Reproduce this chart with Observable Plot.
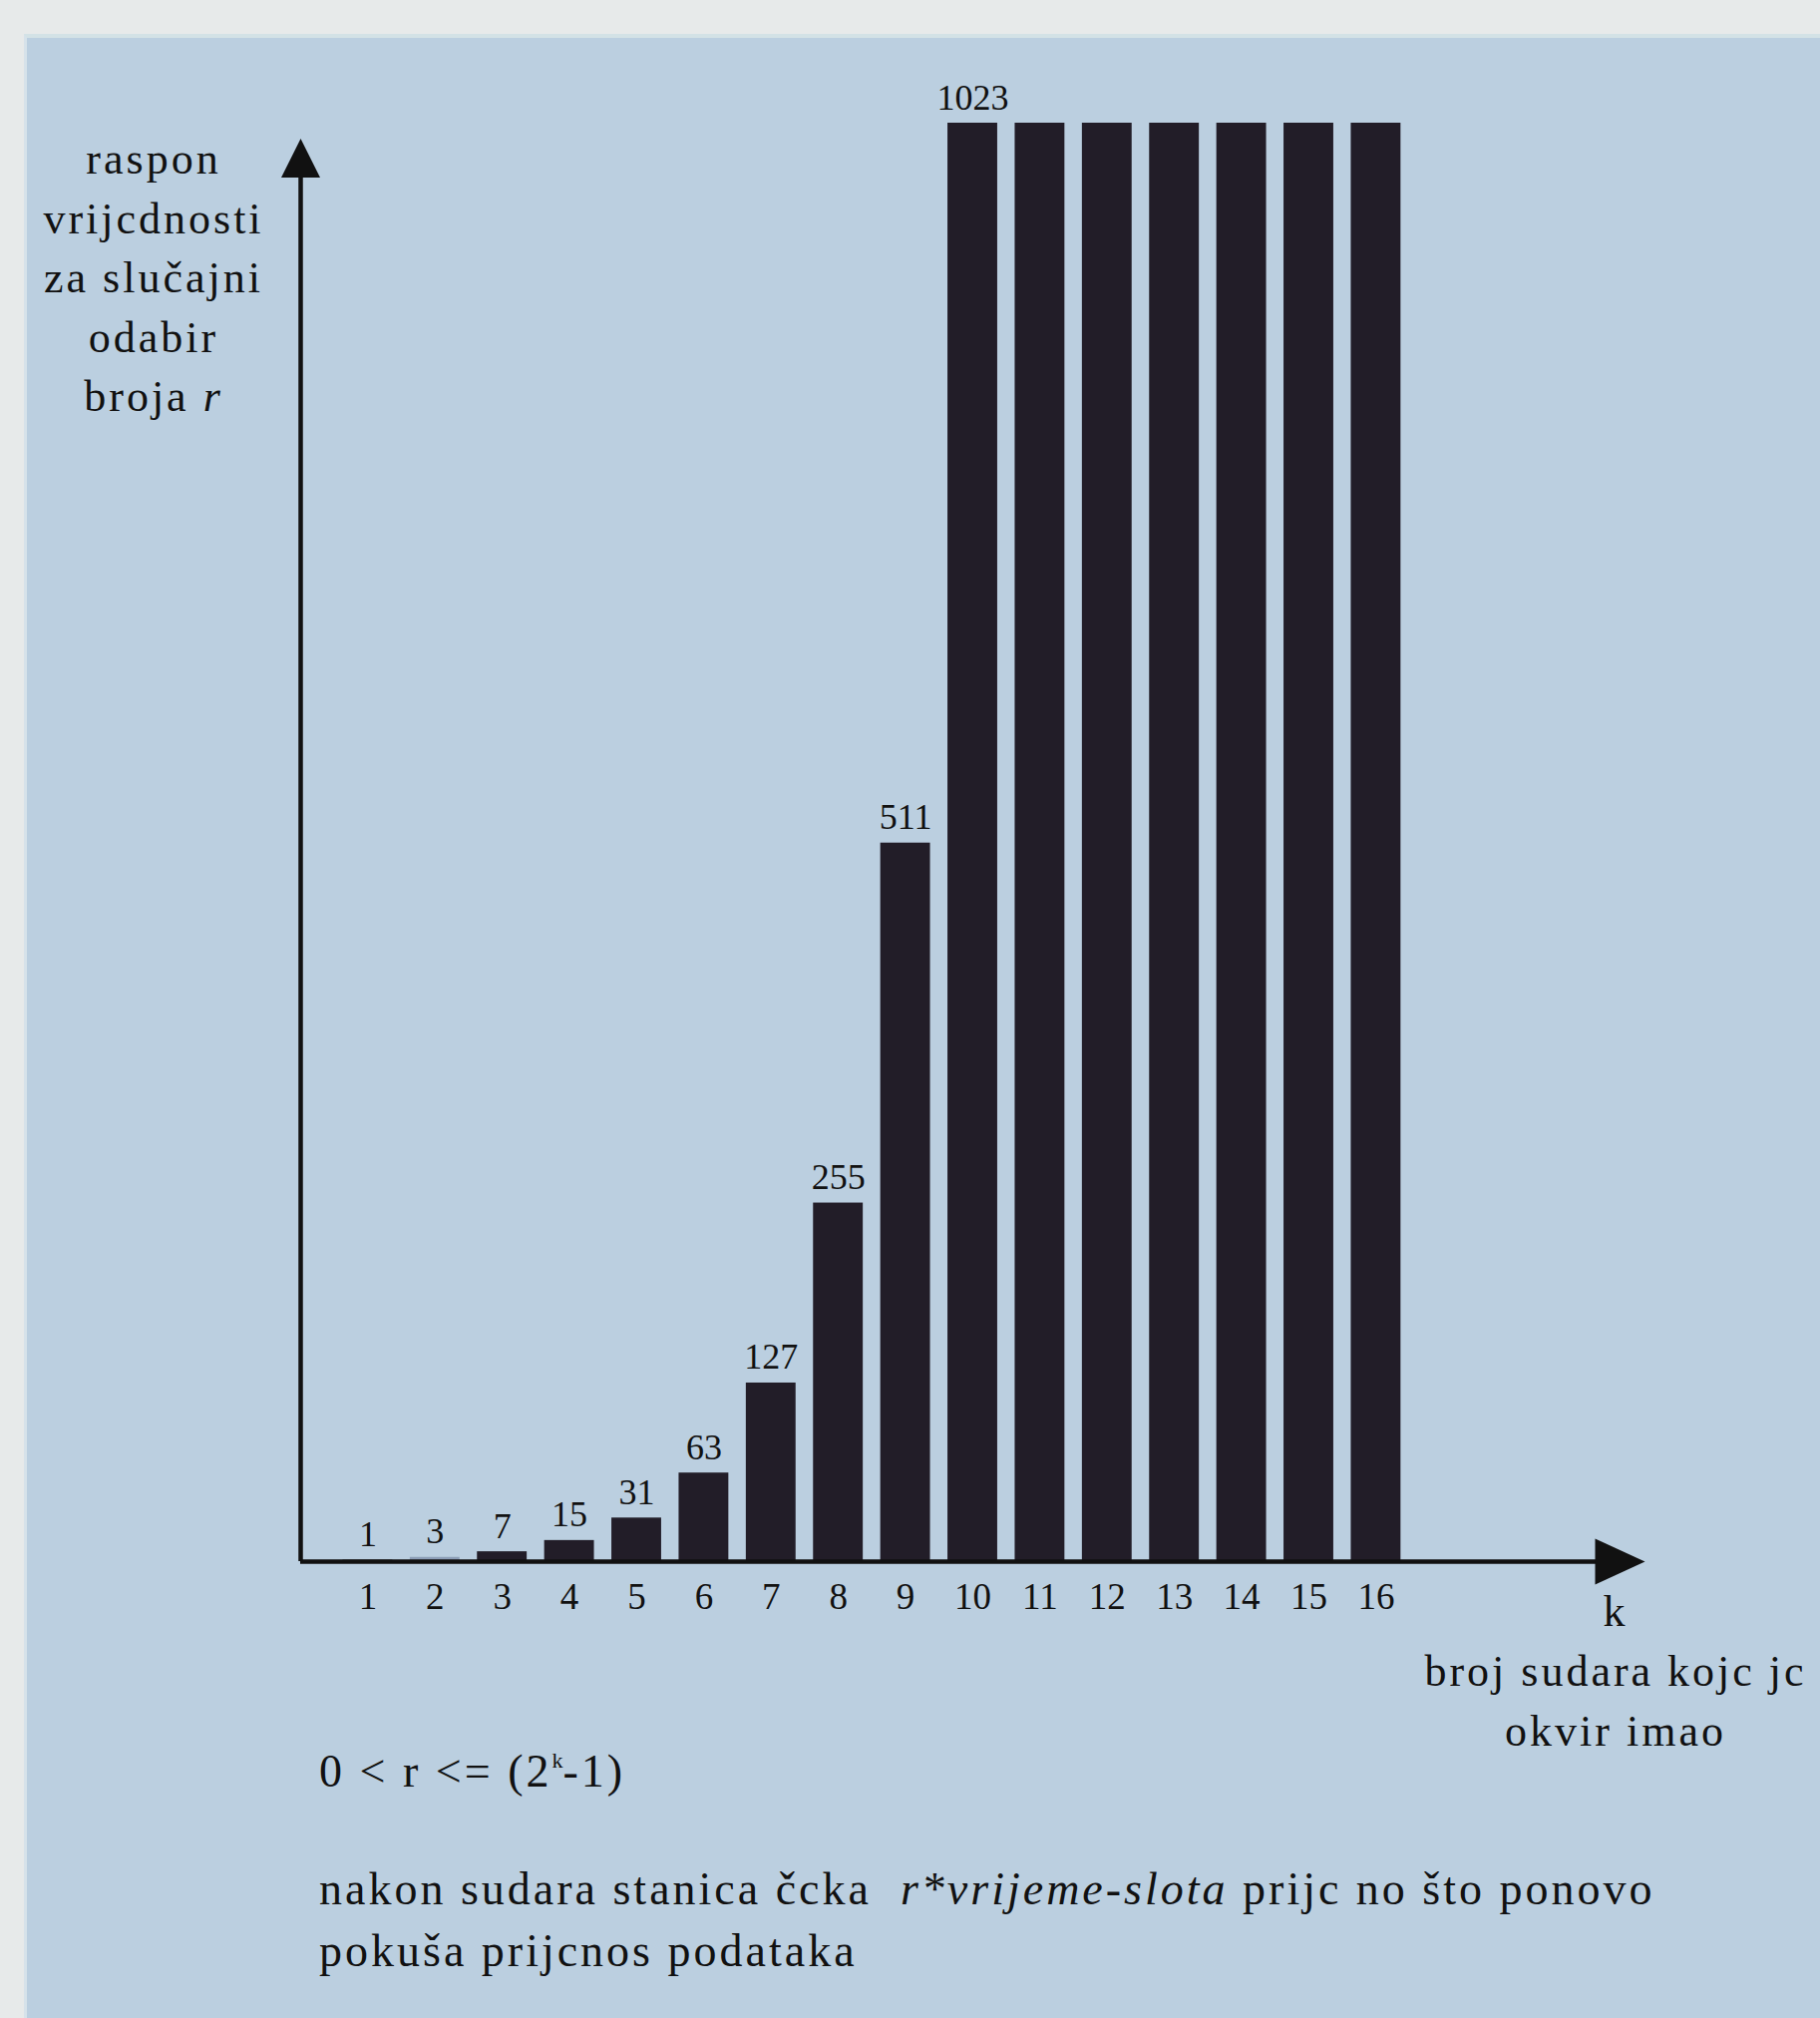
<!DOCTYPE html>
<html>
<head>
<meta charset="utf-8">
<script src="https://cdn.jsdelivr.net/npm/d3@7"></script>
<script src="https://cdn.jsdelivr.net/npm/@observablehq/plot@0.6"></script>
<style>
  html, body { margin: 0; padding: 0; overflow: hidden; }
  #page { position: relative; width: 1825px; height: 2023px; background: #e7eaea; overflow: hidden;
          font-family: "Liberation Serif", serif; color: #111; }
  #panel { position: absolute; left: 24px; top: 34px; right: 0; bottom: 0; background: #bbcfe0;
           border-top: 4px solid #d3e2e6; border-left: 3px solid #d6e2ea; }
  #chart { position: absolute; left: 0; top: 0; }
  .lbl { position: absolute; font-size: 44px; letter-spacing: 3px; white-space: nowrap; }
</style>
</head>
<body>
<div id="page">
  <div id="panel"></div>
  <div id="chart"></div>
  <div class="lbl" id="ylab" style="left:4px; top:130px; width:300px; text-align:center; line-height:59.5px;"></div>
  <div class="lbl" id="xk" style="left:1415px; top:1586px; width:410px; text-align:center; line-height:60px;"></div>
  <div class="lbl" id="formula" style="left:320px; top:1746px; line-height:60px; font-size:46px; letter-spacing:3px;"></div>
  <div class="lbl" id="note" style="left:320px; top:1863px; line-height:62px; font-size:46px; letter-spacing:3px;"></div>
</div>
<script>
// ---- data ----
const kValues = [1, 2, 3, 4, 5, 6, 7, 8, 9, 10, 11, 12, 13, 14, 15, 16];
const rValues = [1, 3, 7, 15, 31, 63, 127, 255, 511, 1023, 1023, 1023, 1023, 1023, 1023, 1023];
const labelledK = [1, 2, 3, 4, 5, 6, 7, 8, 9, 10];
const yTitle = ["raspon", "vrijcdnosti", "za slučajni", "odabir", "broja <i>r</i>"];
const xTitle = ["k", "broj sudara kojc jc", "okvir imao"];
const formula = "0 &lt; r &lt;= (2<span style=\"font-size:22px;position:relative;top:-19px;letter-spacing:0\">k</span>-1)";
const note = ["nakon sudara stanica čcka&nbsp; <i>r*vrijeme-slota</i> prijc no što ponovo", "pokuša prijcnos podataka"];

const data = kValues.map((k, i) => ({k, r: rValues[i]}));
const labels = data.filter(d => labelledK.includes(d.k));

// axis arrow geometry (in data units)
const xAxisLine = [{y: 0, x1: 0, x2: 19.4}];
const yAxisLine = [{x: 0, y1: 0, y2: 995}];
const xTip = [{x: 20, y: 0}];
const yTip = [{x: 0, y: 1012}];

const arrowUp = {draw(ctx) { ctx.moveTo(0, 0); ctx.lineTo(-19.5, 39); ctx.lineTo(19.5, 39); ctx.closePath(); }};
const arrowRight = {draw(ctx) { ctx.moveTo(0, 0); ctx.lineTo(-50, -23); ctx.lineTo(-50, 23); ctx.closePath(); }};

const chart = Plot.plot({
  width: 1825,
  height: 1660,
  marginLeft: 301,
  marginRight: 176,
  marginTop: 123,
  marginBottom: 95,
  style: {background: "transparent", fontFamily: "Liberation Serif, serif", color: "#111", overflow: "visible"},
  x: {type: "linear", domain: [0, 20], axis: null},
  y: {domain: [0, 1023], axis: null},
  marks: [
    Plot.rectY(data, {
      x1: d => d.k - 0.37, x2: d => d.k + 0.37, y: "r",
      fill: d => d.k === 2 ? "#8c9eb7" : "#221d28"
    }),
    Plot.ruleY(xAxisLine, {y: "y", x1: "x1", x2: "x2", stroke: "#111", strokeWidth: 4.5}),
    Plot.ruleX(yAxisLine, {x: "x", y1: "y1", y2: "y2", stroke: "#111", strokeWidth: 4.5}),
    Plot.dot(xTip, {x: "x", y: "y", symbol: arrowRight, fill: "#111", stroke: "none"}),
    Plot.dot(yTip, {x: "x", y: "y", symbol: arrowUp, fill: "#111", stroke: "none"}),
    Plot.text(labels, {x: "k", y: "r", text: d => String(d.r), lineAnchor: "bottom", dy: -14,
      fontSize: 36, fill: "#111"}),
    Plot.axisX(kValues, {tickSize: 0, tickPadding: 21, fontSize: 37, fill: "#111"})
  ]
});
document.getElementById("chart").appendChild(chart);

document.getElementById("ylab").innerHTML = yTitle.join("<br>");
document.getElementById("xk").innerHTML = xTitle.join("<br>");
document.getElementById("formula").innerHTML = formula;
document.getElementById("note").innerHTML = note.join("<br>");
</script>
</body>
</html>
